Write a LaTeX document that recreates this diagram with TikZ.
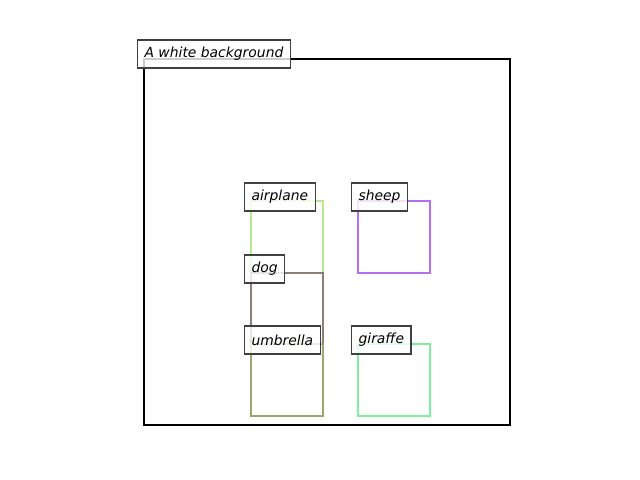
\documentclass[tikz,border=0pt]{standalone}
\usepackage{fontspec}
\setmainfont{DejaVu Sans}
\definecolor{AirplaneGreen}{RGB}{181,235,140}
\definecolor{DogGrey}{RGB}{140,126,121}
\definecolor{UmbrellaOlive}{RGB}{157,165,114}
\definecolor{SheepPurple}{RGB}{181,110,240}
\definecolor{GiraffeGreen}{RGB}{126,240,156}
\definecolor{TagEdge}{RGB}{64,64,64}
\usetikzlibrary{positioning}
\tikzset{bgframe/.style={draw=black,line width=1.6pt}}
\tikzset{objbox/.style={line width=1.8pt}}
\tikzset{tag/.style={draw=TagEdge,line width=0.9pt,fill=white,fill opacity=0.8,text opacity=1,anchor=west,inner xsep=5pt,inner ysep=0pt,minimum height=20.2pt,font=\itshape\fontsize{10}{12}\selectfont}}

\begin{document}
\begin{tikzpicture}[x=0.72pt,y=-0.72pt]
    \useasboundingbox (0,0) rectangle (640,480);

    \draw[bgframe] (144,59) rectangle (510,425);
    \node[tag] (background) at (137,54) {A white background};

    \foreach \name/\col/\xa/\ya/\xb/\yb in {
        airplane/AirplaneGreen/251/201/323/344,
        dog/DogGrey/251/273/323/344,
        umbrella/UmbrellaOlive/251/344/323/416,
        sheep/SheepPurple/358/201/430/273,
        giraffe/GiraffeGreen/358/344/430/416
    } {
        \draw[objbox,draw=\col] (\xa,\ya) rectangle (\xb,\yb);
        \node[tag] (\name) at (\xa-7,\ya-4) {\name};
    }
\end{tikzpicture}
\end{document}
